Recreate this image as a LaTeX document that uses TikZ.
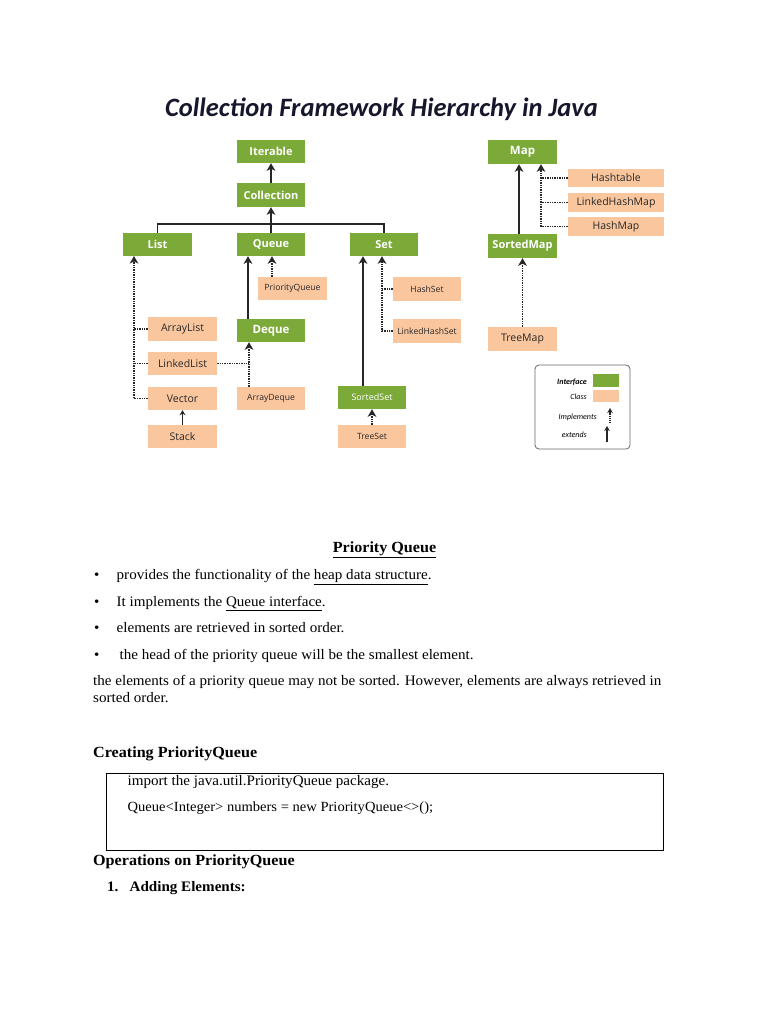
\documentclass[tikz,border=0pt]{standalone}
\usepackage{fontspec}
\setmainfont{Liberation Serif}[FakeStretch=1.04]
\newfontfamily\boxfont{Open Sans}
\newfontfamily\titlefont{Carlito}
\usetikzlibrary{arrows.meta}
\definecolor{ifgreen}{RGB}{124,170,56}
\definecolor{clpeach}{RGB}{250,198,158}
\definecolor{titlecol}{RGB}{22,22,45}
\definecolor{boxtext}{RGB}{40,40,40}
\begin{document}
\begin{tikzpicture}[x=1pt,y=-1pt,
  iface/.style={fill=ifgreen,text=white,font=\boxfont\bfseries\fontsize{11}{12}\selectfont,inner sep=0pt,minimum width=68pt,minimum height=23pt},
  cls/.style={fill=clpeach,text=boxtext,font=\boxfont\fontsize{10.5}{12}\selectfont,inner sep=0pt,minimum width=69pt,minimum height=23pt},
  small/.style={font=\boxfont\fontsize{8.6}{10}\selectfont},
  ext/.style={draw=black!85,line width=1.8pt,-{Stealth[length=7.5pt,width=8.5pt,inset=2pt]}},
  impl/.style={draw=black!85,line width=1.3pt,dash pattern=on 1.4pt off 1pt,-{Stealth[length=7.5pt,width=8.5pt,inset=2pt]}},
  dotline/.style={draw=black!85,line width=1.3pt,dash pattern=on 1.4pt off 1pt},
  busline/.style={draw=black!85,line width=1.2pt},
  txt/.style={anchor=base west,inner sep=0pt,font=\fontsize{14.5}{17}\selectfont},
  btxt/.style={anchor=base west,inner sep=0pt,font=\bfseries\fontsize{15.5}{18}\selectfont},
  leg/.style={anchor=base east,inner sep=0pt,font=\titlefont\itshape\fontsize{8}{9}\selectfont}
]
\useasboundingbox (0,0) rectangle (768,1024);
\fill[white] (0,0) rectangle (768,1024);

% title
\node[anchor=base,inner sep=0pt,text=titlecol,font=\titlefont\bfseries\itshape\fontsize{26.5}{30}\selectfont] (title) at (381.5,117) {Collection Framework Hierarchy in Java};

% Collection side
\node[iface] (iter) at (271,151.5) {Iterable};
\node[iface,minimum height=24pt] (coll) at (271,195) {Collection};
\node[iface,minimum width=69pt] (list) at (157.5,244.5) {List};
\node[iface] (queue) at (271,244.5) {Queue};
\node[iface] (set) at (384,244.5) {Set};
\node[cls,small] (pq) at (292.5,288.5) {PriorityQueue};
\node[cls,small,minimum width=68pt,minimum height=24pt] (hashset) at (427,289) {HashSet};
\node[cls,minimum height=24pt] (arraylist) at (182.5,329) {ArrayList};
\node[iface,font=\boxfont\bfseries\fontsize{11.5}{12}\selectfont] (deque) at (271,330.5) {Deque};
\node[cls,small,minimum width=68pt,minimum height=24pt] (lhs) at (427,331) {LinkedHashSet};
\node[cls] (linkedlist) at (182.5,363.5) {LinkedList};
\node[cls] (vector) at (182.5,398.5) {Vector};
\node[cls,small,minimum width=68pt] (arraydeque) at (271,398.5) {ArrayDeque};
\node[iface,font=\boxfont\fontsize{9}{10}\selectfont] (sortedset) at (372,397.5) {SortedSet};
\node[cls] (stack) at (182.5,436.5) {Stack};
\node[cls,small,minimum width=68pt] (treeset) at (372,436.5) {TreeSet};

% Map side
\node[iface,minimum width=69pt,minimum height=24pt,font=\boxfont\bfseries\fontsize{11.5}{12}\selectfont] (map) at (522.5,152) {Map};
\node[cls,minimum width=96pt,minimum height=18.5pt] (hashtable) at (616,178) {Hashtable};
\node[cls,minimum width=96pt,minimum height=19pt] (lhm) at (616,202.5) {LinkedHashMap};
\node[cls,minimum width=96pt,minimum height=19pt] (hashmap) at (616,226.5) {HashMap};
\node[iface,minimum width=69pt,minimum height=24pt] (sortedmap) at (522.5,246) {SortedMap};
\node[cls,minimum height=24pt] (treemap) at (522.5,339) {TreeMap};

% connectors, collection side
\draw[ext] (coll.north) -- (iter.south);
\draw[ext] (queue.north) -- (coll.south);
\coordinate (bus) at (271,224);
\draw[busline] (list.north) |- (bus) -| (set.north);

\coordinate (lstem) at (134,256);
\draw[impl] (vector.west) -| (lstem);
\draw[dotline] (arraylist.west) -- (arraylist.west -| lstem);
\draw[dotline] (linkedlist.west) -- (linkedlist.west -| lstem);
\draw[draw=black!85,line width=1.1pt,-{Stealth[length=5pt,width=6pt,inset=1.5pt]}] (stack.north) -- (vector.south);

\draw[ext] ([xshift=-23pt]deque.north) -- ([xshift=-23pt]deque.north |- queue.south);
\draw[impl] ([xshift=-20.5pt]pq.north) -- ([xshift=-20.5pt]pq.north |- queue.south);
\coordinate (dq) at ([xshift=-22pt]deque.south);
\draw[impl] (arraydeque.north -| dq) -- (dq);
\draw[dotline] (linkedlist.east) -- (linkedlist.east -| dq);

\draw[ext] ([xshift=-9pt]sortedset.north) -- ([xshift=-9pt]sortedset.north |- set.south);
\coordinate (sstem) at ([xshift=-2pt]set.south);
\draw[impl] (lhs.west) -| (sstem);
\draw[dotline] (hashset.west) -- (hashset.west -| sstem);
\draw[impl] (treeset.north) -- (sortedset.south);

% connectors, map side
\draw[ext] ([xshift=-3.5pt]sortedmap.north) -- ([xshift=-3.5pt]map.south);
\coordinate (mstem) at ([xshift=18.5pt]map.south);
\draw[impl] (hashmap.west) -| (mstem);
\draw[dotline] (hashtable.west) -- (hashtable.west -| mstem);
\draw[dotline] (lhm.west) -- (lhm.west -| mstem);
\draw[impl] (treemap.north) -- (sortedmap.south);

% legend
\node[draw=black!60,line width=0.8pt,rounded corners=4pt,minimum width=95pt,minimum height=84pt,inner sep=0pt] (legend) at (582.5,407) {};
\node[leg,font=\titlefont\bfseries\itshape\fontsize{8}{9}\selectfont] (lgi) at (587,384) {Interface};
\node[leg] (lgc) at (587,399) {Class};
\node[leg] (lgim) at (597,419) {Implements};
\node[leg] (lgex) at (587,437) {extends};
\node[fill=ifgreen,minimum width=26pt,minimum height=13pt,inner sep=0pt] (swg) at (606,380.5) {};
\node[fill=clpeach,minimum width=26pt,minimum height=12pt,inner sep=0pt] (swp) at (606,396) {};
\coordinate (li1) at (610,423);
\coordinate (li2) at (610,408);
\coordinate (le1) at (607,442);
\coordinate (le2) at (607,426);
\draw[draw=black!85,line width=1.1pt,dash pattern=on 1.2pt off 0.9pt,-{Stealth[length=5pt,width=5.5pt,inset=1.5pt]}] (li1) -- (li2);
\draw[draw=black!85,line width=1.3pt,-{Stealth[length=5pt,width=5.5pt,inset=1.5pt]}] (le1) -- (le2);

% text section
\node[anchor=base,inner sep=0pt,font=\bfseries\fontsize{15.5}{18}\selectfont] (pqh) at (384.5,552.5) {\underline{Priority Queue}};
\node[txt] (b1) at (94,579.5) {•};
\node[txt] (t1) at (116.5,579.5) {provides the functionality of the \underline{heap data structure}.};
\node[txt] (b2) at (94,606) {•};
\node[txt] (t2) at (116.5,606) {It implements the \underline{Queue interface}.};
\node[txt] (b3) at (94,632.5) {•};
\node[txt] (t3) at (116.5,632.5) {elements are retrieved in sorted order.};
\node[txt] (b4) at (94,659) {•};
\node[txt] (t4) at (119.5,659) {the head of the priority queue will be the smallest element.};
\node[txt] (p1) at (93,685.5) {the elements of a priority queue may not be sorted. However, elements are always retrieved in};
\node[txt] (p2) at (93,702.5) {sorted order.};

\node[btxt] (h2) at (93,757) {Creating PriorityQueue};
\node[draw=black,line width=0.8pt,minimum width=557pt,minimum height=77pt,inner sep=0pt] (codebox) at (385,811.5) {};
\node[txt] (c1) at (127.5,785) {import the java.util.PriorityQueue package.};
\node[txt,font=\fontsize{14}{16}\selectfont] (c2) at (127.5,811.5) {Queue<Integer> numbers = new PriorityQueue<>();};
\node[btxt] (h3) at (93,865) {Operations on PriorityQueue};
\node[btxt,font=\bfseries\fontsize{14.5}{17}\selectfont] (n1) at (107,891.5) {1.};
\node[btxt,font=\bfseries\fontsize{14.5}{17}\selectfont] (h4) at (129.5,891.5) {Adding Elements:};
\end{tikzpicture}
\end{document}
